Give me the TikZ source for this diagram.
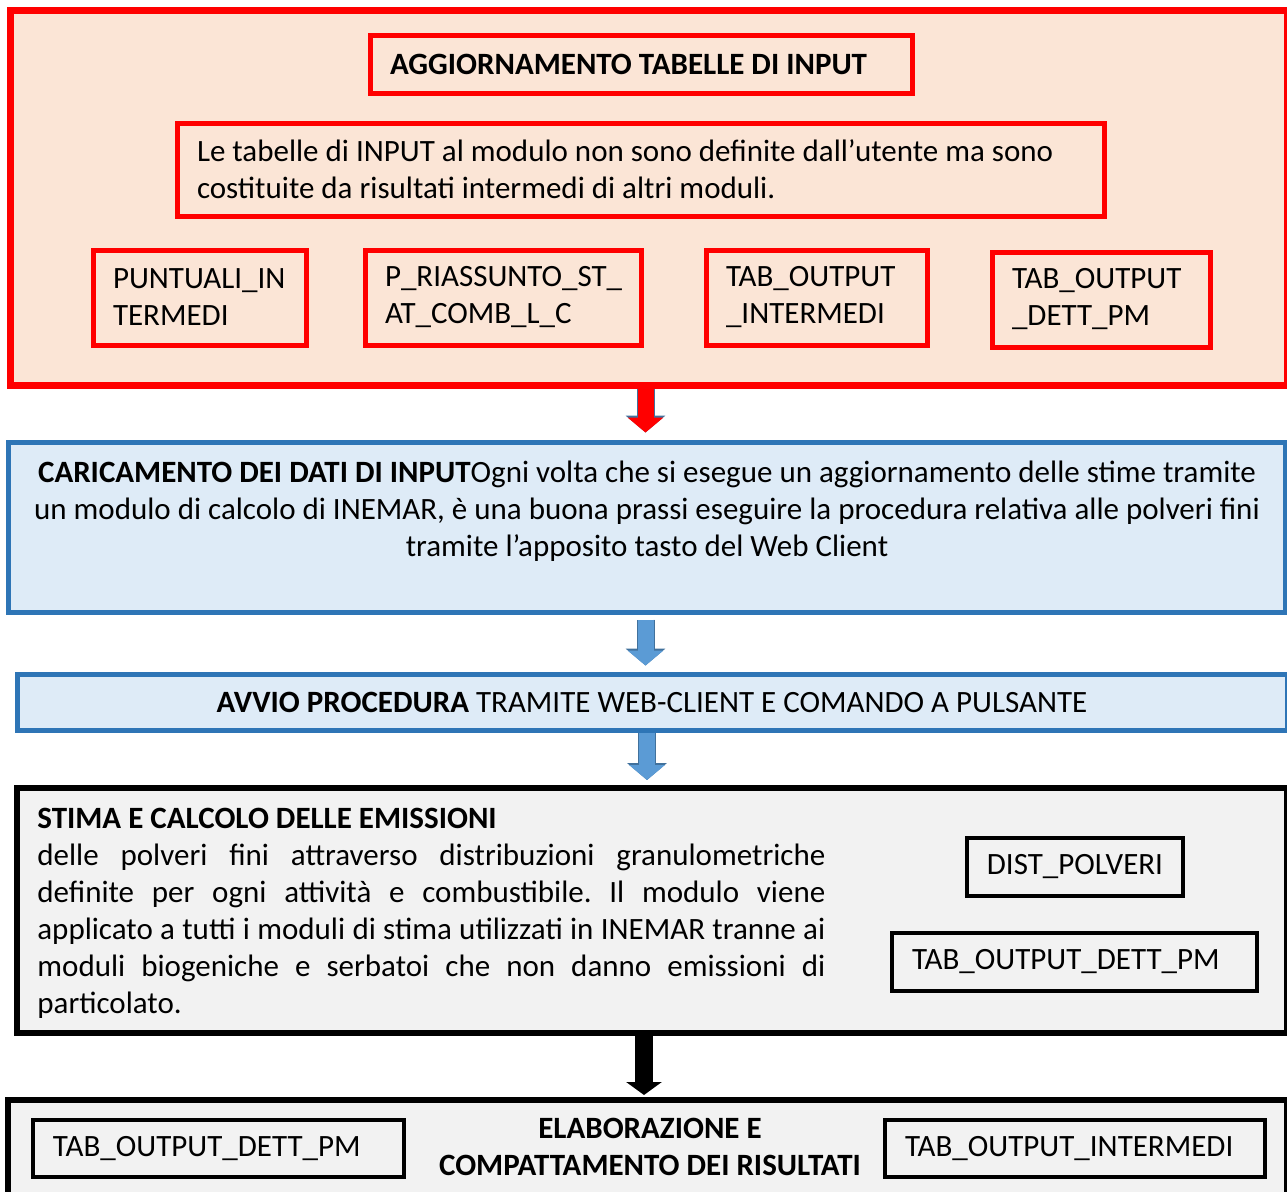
\documentclass[tikz,border=0pt]{standalone}
\usepackage{fontspec}
\setmainfont{Carlito}
\usetikzlibrary{arrows.meta}
\definecolor{peach}{HTML}{FBE5D6}
\definecolor{paleblue}{HTML}{DEEBF7}
\definecolor{frameblue}{HTML}{2E75B6}
\definecolor{arrowblue}{HTML}{5B9BD5}
\definecolor{edgeblue}{HTML}{41719C}
\definecolor{palegray}{HTML}{F2F2F2}
\frenchspacing

\begin{document}
\begin{tikzpicture}[x=0.5pt, y=-0.5pt,
  every node/.style={font=\fontsize{15.5}{18.5}\selectfont, inner sep=0pt},
  redbox/.style={draw=red, fill=peach, line width=2.5pt},
  redtab/.style={redbox, minimum height=47.5pt, inner xsep=10pt, align=flush left},
  bluebox/.style={draw=frameblue, fill=paleblue, line width=2.5pt},
  blackbox/.style={draw=black, fill=palegray, line width=3pt},
  tabbox/.style={draw=black, fill=palegray, line width=2pt, minimum height=29pt, inner xsep=10pt, align=flush left},
  blockarrow/.style={line width=8pt, -{Triangle[width=17.5pt,length=7.5pt]},
    preaction={draw=edgeblue, line width=9pt, -{Triangle[width=19.5pt,length=8.5pt]}}},
  blackarrow/.style={line width=9pt, black, -{Triangle[width=17.5pt,length=6.5pt]}}
]
\path[use as bounding box] (0,0) rectangle (1287,1191);
\clip (0,0) rectangle (1287,1191);

\node[redbox, line width=3.5pt, minimum width=638.5pt, minimum height=187.5pt] (input) at (648.5,197.5) {};
\node[redbox, text width=251pt, inner xsep=10pt, minimum height=29pt, align=flush left] (aggiorna) at (641,64) {\textbf{AGGIORNAMENTO TABELLE DI INPUT}};
\node[redbox, text width=443.5pt, inner xsep=10pt, minimum height=46.5pt, align=flush left] (nota) at (640.5,169.5) {Le tabelle di INPUT al modulo non sono definite dall’utente ma sono\\costituite da risultati intermedi di altri moduli.};
\node[redtab, text width=86.5pt] (puntuali) at (199.5,297.5) {PUNTUALI\_IN\\TERMEDI};
\node[redtab, text width=118pt] (riassunto) at (503,297.5) {P\_RIASSUNTO\_ST\_\\AT\_COMB\_L\_C};
\node[redtab, text width=90.5pt] (tabinter) at (816.5,297.5) {TAB\_OUTPUT\\\_INTERMEDI};
\node[redtab, text width=89pt] (tabdett) at (1101,299.5) {TAB\_OUTPUT\\\_DETT\_PM};

\node[bluebox, minimum width=638.5pt, minimum height=85pt] (carica) at (646.5,527) {};
\node[align=center] (caricatxt) at (647,511) {\textbf{CARICAMENTO DEI DATI DI INPUT}Ogni volta che si esegue un aggiornamento delle stime tramite\\un modulo di calcolo di INEMAR, è una buona prassi eseguire la procedura relativa alle polveri fini\\tramite l’apposito tasto del Web Client};

\node[bluebox, minimum width=635pt, minimum height=28pt] (avvio) at (652,702) {\textbf{AVVIO PROCEDURA} TRAMITE WEB-CLIENT E COMANDO A PULSANTE};

\node[blackbox, minimum width=635pt, minimum height=122.5pt] (stima) at (652,910.5) {};
\node[text width=394pt, align=justify, anchor=west] (stimatxt) at (37,913.5) {\textbf{STIMA E CALCOLO DELLE EMISSIONI}\\delle polveri fini attraverso distribuzioni granulometriche\linebreak definite per ogni attività e combustibile. Il modulo viene\linebreak applicato a tutti i moduli di stima utilizzati in INEMAR tranne ai\linebreak moduli biogeniche e serbatoi che non danno emissioni di\linebreak particolato.};
\node[tabbox, minimum width=108pt, align=center] (dist) at (1075,867) {DIST\_POLVERI};
\node[tabbox, text width=162.5pt] (stimadett) at (1074.5,962) {TAB\_OUTPUT\_DETT\_PM};

\node[blackbox, minimum width=639.5pt, minimum height=50pt] (elabora) at (647.5,1150) {};
\node[tabbox, text width=165.5pt, minimum height=28.5pt] (elabdett) at (218.5,1148.5) {TAB\_OUTPUT\_DETT\_PM};
\node[align=center] (elabtxt) at (650,1146.5) {\textbf{ELABORAZIONE E}\\\textbf{COMPATTAMENTO DEI RISULTATI}};
\node[tabbox, text width=170pt, minimum height=28.5pt] (elabinter) at (1075,1148.5) {TAB\_OUTPUT\_INTERMEDI};

\draw[blockarrow, red, shorten >=3.5pt] ([xshift=-1.5pt]input.south) -- ([xshift=-1.5pt]input.south |- carica.north);
\draw[blockarrow, arrowblue, shorten <=2.5pt, shorten >=3pt] ([xshift=-0.5pt]carica.south) -- ([xshift=-0.5pt]carica.south |- avvio.north);
\draw[blockarrow, arrowblue, shorten >=2.5pt] ([xshift=-2.5pt]avvio.south) -- ([xshift=-2.5pt]avvio.south |- stima.north);
\draw[blackarrow, shorten >=1pt] ([xshift=-4pt]stima.south) -- ([xshift=-4pt]stima.south |- elabora.north);
\end{tikzpicture}
\end{document}
